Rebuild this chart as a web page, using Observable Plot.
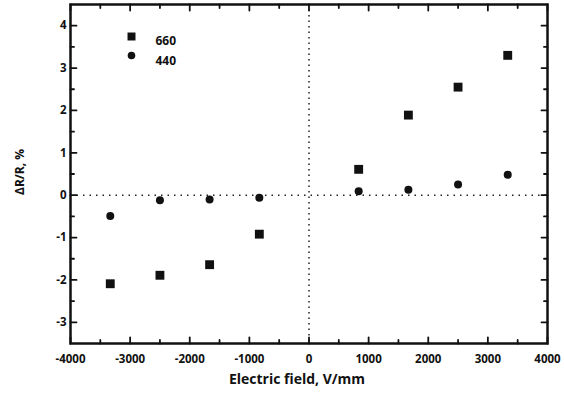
<!DOCTYPE html>
<html><head><meta charset="utf-8">
<script src="https://cdn.jsdelivr.net/npm/d3@7"></script>
<script src="https://cdn.jsdelivr.net/npm/@observablehq/plot@0.6"></script>
<style>body{margin:0;background:#fff}</style>
</head><body><div id="chart"></div>
<script>
const field = [-3333, -2500, -1667, -833, 833, 1667, 2500, 3333];
const r660 = [-2.09, -1.89, -1.64, -0.92, 0.61, 1.89, 2.55, 3.30];
const r440 = [-0.49, -0.12, -0.10, -0.06, 0.09, 0.13, 0.25, 0.48];
const series = ["660", "440"];
const xTicks = [-4000, -3000, -2000, -1000, 0, 1000, 2000, 3000, 4000];
const xMinor = [-3500, -2500, -1500, -500, 500, 1500, 2500, 3500];
const yTicks = [-3, -2, -1, 0, 1, 2, 3, 4];
const yMinor = [-2.5, -1.5, -0.5, 0.5, 1.5, 2.5, 3.5];

const d660 = field.map((x, i) => ({x, y: r660[i]}));
const d440 = field.map((x, i) => ({x, y: r440[i]}));
const fmt = d => String(d);
const font = "Open Sans";
const line = {draw(c, l) { c.moveTo(0, 0); c.lineTo(0, -l); }};
const tk = {shape: line, anchor: "start", stroke: "#111", strokeWidth: 1.8};

const chart = Plot.plot({
  width: 564, height: 393,
  marginLeft: 70, marginRight: 17, marginTop: 4, marginBottom: 50,
  x: {domain: [-4000, 4000]},
  y: {domain: [-3.5, 4.5]},
  style: {fontFamily: font, fontWeight: "bold", fontSize: "11.5px", color: "#111", background: "#fff"},
  marks: [
    Plot.ruleX([0], {stroke: "#222", strokeWidth: 1.5, strokeDasharray: "1.5,4"}),
    Plot.ruleY([0], {stroke: "#222", strokeWidth: 1.5, strokeDasharray: "1.5,5"}),
    Plot.axisX(xTicks, {anchor: "bottom", tickSize: 0, tickPadding: 11, tickFormat: fmt, label: null}),
    Plot.axisY(yTicks, {anchor: "left", tickSize: 0, tickPadding: 4, tickFormat: fmt, label: null}),
    // inward ticks
    Plot.vector(xTicks, {...tk, x: d => d, frameAnchor: "bottom", rotate: 0, length: 6}),
    Plot.vector(xMinor, {...tk, x: d => d, frameAnchor: "bottom", rotate: 0, length: 3.5}),
    Plot.vector(xTicks, {...tk, x: d => d, frameAnchor: "top", rotate: 180, length: 6}),
    Plot.vector(xMinor, {...tk, x: d => d, frameAnchor: "top", rotate: 180, length: 3.5}),
    Plot.vector(yTicks, {...tk, y: d => d, frameAnchor: "left", rotate: 90, length: 6}),
    Plot.vector(yMinor, {...tk, y: d => d, frameAnchor: "left", rotate: 90, length: 3.5}),
    Plot.vector(yTicks, {...tk, y: d => d, frameAnchor: "right", rotate: -90, length: 6}),
    Plot.vector(yMinor, {...tk, y: d => d, frameAnchor: "right", rotate: -90, length: 3.5}),
    Plot.frame({stroke: "#111", strokeWidth: 2.5}),
    Plot.dot(d660, {x: "x", y: "y", symbol: "square", r: 5, fill: "#111"}),
    Plot.dot(d440, {x: "x", y: "y", symbol: "circle", r: 4, fill: "#111"}),
    Plot.dot([series[0]], {frameAnchor: "top-left", dx: 61, dy: 32, symbol: "square", r: 4.5, fill: "#111"}),
    Plot.dot([series[1]], {frameAnchor: "top-left", dx: 61, dy: 51, symbol: "circle", r: 3.8, fill: "#111"}),
    Plot.text([series[0]], {text: d => d, frameAnchor: "top-left", dx: 85, dy: 32, textAnchor: "start", fontSize: 12, fontWeight: "bold"}),
    Plot.text([series[1]], {text: d => d, frameAnchor: "top-left", dx: 85, dy: 52, textAnchor: "start", fontSize: 12, fontWeight: "bold"}),
    Plot.text(["Electric field, V/mm"], {frameAnchor: "bottom", dx: -12, dy: 40, fontSize: 14, fontWeight: "bold"}),
    Plot.text(["ΔR/R, %"], {frameAnchor: "left", dx: -50, dy: 21, rotate: -90, fontSize: 12, fontWeight: "bold"})
  ]
});
document.getElementById("chart").append(chart);
</script></body></html>
